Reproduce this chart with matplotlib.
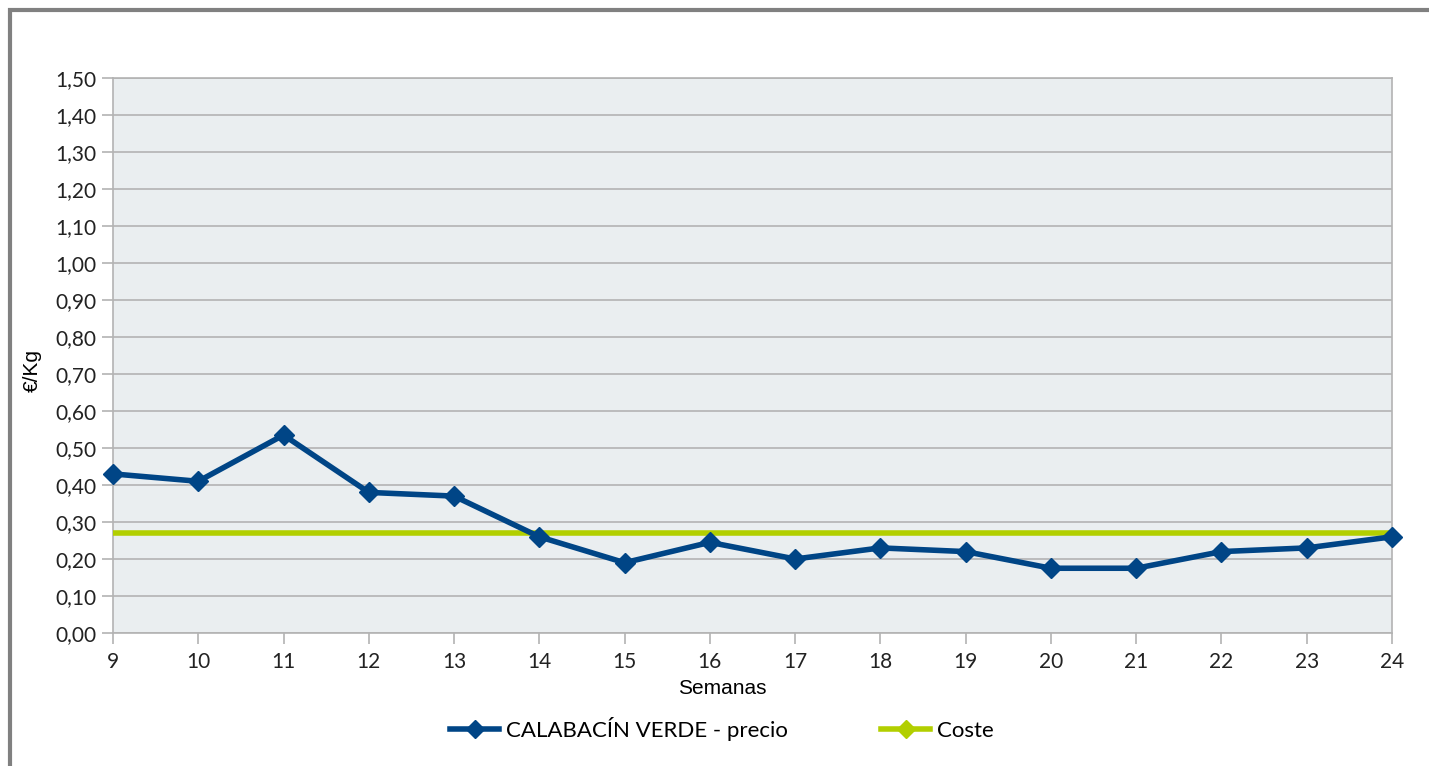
import matplotlib
matplotlib.use("Agg")
import matplotlib.pyplot as plt
from matplotlib.patches import Rectangle
from matplotlib.lines import Line2D

weeks = [9, 10, 11, 12, 13, 14, 15, 16, 17, 18, 19, 20, 21, 22, 23, 24]
precio = [0.43, 0.41, 0.535, 0.38, 0.37, 0.26, 0.19, 0.245, 0.20, 0.23, 0.22, 0.175, 0.175, 0.22, 0.23, 0.26]
coste_value = 0.27
coste = [coste_value] * len(weeks)
yticks = [i / 10 for i in range(0, 16)]
ytick_labels = [f"{v:.2f}".replace(".", ",") for v in yticks]

W, H = 1429, 766
fig = plt.figure(figsize=(W / 100, H / 100), dpi=100)
fig.patch.set_facecolor("white")

# outer frame
fig.patches.append(Rectangle((9.5 / W, -0.1), 1.2, (H - 9.5) / H + 0.1,
                             transform=fig.transFigure, fill=False,
                             edgecolor="#808080", linewidth=3))

ax = fig.add_axes([113 / W, 1 - 633 / H, (1392 - 113) / W, (633 - 78) / H])
ax.set_facecolor("#eaeef0")

blue = "#004586"
green = "#b2cf00"
ax.plot(weeks, coste, color=green, linewidth=4, zorder=3, solid_capstyle="butt")
ax.plot(weeks, precio, color=blue, linewidth=4, marker="D", markersize=10.5,
        zorder=4, clip_on=False)

ax.set_xlim(weeks[0], weeks[-1])
ax.set_ylim(0, 1.5)
ax.set_xticks(weeks)
ax.set_xticklabels([str(w) for w in weeks])
ax.set_yticks(yticks)
ax.set_yticklabels(ytick_labels)
ax.grid(axis="y", color="#b3b3b3", linewidth=1.2)
ax.set_axisbelow(True)
for s in ax.spines.values():
    s.set_color("#b3b3b3")
    s.set_linewidth(1.2)
ax.tick_params(axis="both", color="#b3b3b3", length=8, width=1.2,
               labelsize=15, labelcolor="#222222")
ax.tick_params(axis="x", pad=6)
ax.tick_params(axis="y", pad=4)
for lab in ax.get_xticklabels() + ax.get_yticklabels():
    lab.set_family("Lato")

fig.text(32 / W, 1 - 370 / H, "€/Kg", rotation=90, ha="center", va="center",
         fontsize=15, family="Liberation Sans", color="#000000")
fig.text(722 / W, 1 - 688 / H, "Semanas", ha="center", va="center",
         fontsize=15, family="Liberation Sans", color="#000000")

handles = [Line2D([], [], color=blue, linewidth=4, marker="D", markersize=9),
           Line2D([], [], color=green, linewidth=4, marker="D", markersize=9)]
leg = fig.legend(handles, ["CALABACÍN VERDE - precio", "Coste"], loc="center",
                 bbox_to_anchor=(722 / W, 1 - 729 / H), ncol=2, frameon=False,
                 prop={"family": "Lato", "size": 16}, handlelength=2.2,
                 columnspacing=4.2, handletextpad=0.3)

fig.savefig("out.png", dpi=100, facecolor="white")
